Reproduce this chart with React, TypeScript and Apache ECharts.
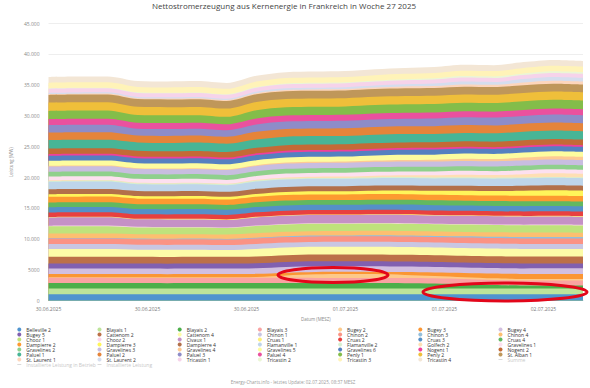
import React, { useEffect, useRef } from 'react';
import * as echarts from 'echarts';

// Hours since 30.06.2025 00:00 (MESZ)
const hours = [0, 3, 6, 9, 12, 15, 18, 21, 24, 27, 30, 33, 36, 39, 42, 45, 48, 51, 54];

// Net generation per unit in MW
const belleville2 = [1060, 1064, 1058, 1055, 1061, 1063, 1057, 1060, 1066, 1062, 1059, 1057, 1063, 1065, 1060, 1057, 1062, 1060, 1058];
const blayais1 = [920, 917, 923, 920, 914, 918, 921, 923, 919, 917, 920, 922, 918, 920, 923, 920, 917, 920, 921];
const blayais2 = [880, 883, 878, 881, 876, 879, 877, 880, 883, 880, 877, 881, 870, 820, 700, 560, 480, 460, 470];
const blayais3 = [840, 843, 838, 841, 835, 838, 841, 843, 839, 837, 840, 843, 840, 837, 841, 843, 839, 838, 840];
const bugey2 = [120, 118, 122, 120, 117, 121, 122, 150, 400, 600, 650, 620, 500, 380, 300, 260, 240, 250, 240];
const bugey3 = [500, 506, 497, 501, 503, 499, 497, 500, 450, 380, 360, 380, 450, 560, 680, 760, 800, 820, 810];
const bugey4 = [900, 903, 897, 901, 895, 900, 897, 901, 903, 899, 897, 901, 903, 899, 897, 901, 903, 900, 897];
const bugey5 = [810, 807, 813, 810, 805, 811, 807, 810, 813, 809, 807, 811, 813, 809, 807, 811, 813, 810, 807];
const cattenom2 = [1100, 1097, 1103, 1100, 1095, 1101, 1097, 1100, 1103, 1099, 1097, 1101, 1103, 1099, 1097, 1101, 1103, 1100, 1097];
const cattenom4 = [1250, 1256, 1262, 1152, 1165, 1150, 1122, 1242, 1250, 1256, 1249, 1253, 1256, 1250, 1253, 1256, 1249, 1253, 1250];
const chinon1 = [800, 797, 803, 800, 795, 801, 797, 800, 803, 799, 797, 801, 803, 799, 797, 801, 803, 800, 797];
const chinon2 = [900, 903, 897, 901, 895, 900, 897, 901, 903, 899, 897, 901, 903, 899, 897, 901, 903, 900, 897];
const chinon3 = [100, 101, 99, 100, 98, 101, 100, 110, 125, 130, 135, 145, 155, 175, 200, 200, 225, 250, 245];
const chinon4 = [720, 723, 717, 721, 715, 720, 717, 721, 723, 719, 717, 721, 723, 719, 717, 721, 723, 720, 717];
const chooz1 = [1180, 1186, 1192, 1082, 1095, 1080, 1052, 1172, 1180, 1186, 1179, 1183, 1186, 1180, 1183, 1186, 1179, 1183, 1180];
const chooz2 = [100, 101, 103, 100, 97, 100, 101, 100, 103, 100, 97, 101, 103, 100, 97, 100, 102, 100, 101];
const civaux1 = [1320, 1326, 1332, 1222, 1235, 1220, 1192, 1312, 1320, 1326, 1319, 1323, 1326, 1320, 1323, 1326, 1319, 1323, 1320];
const cruas1 = [100, 99, 102, 100, 98, 101, 99, 100, 102, 100, 98, 101, 102, 100, 98, 101, 102, 100, 99];
const cruas2 = [720, 724, 717, 721, 716, 719, 716, 721, 724, 720, 717, 721, 724, 720, 717, 721, 724, 720, 717];
const cruas3 = [860, 857, 863, 860, 855, 861, 857, 860, 863, 859, 857, 861, 863, 859, 857, 861, 863, 860, 857];
const cruas4 = [780, 783, 777, 781, 776, 780, 777, 781, 783, 779, 777, 781, 783, 779, 777, 781, 783, 780, 777];
const dampierre2 = [900, 897, 903, 900, 895, 901, 897, 900, 903, 899, 897, 901, 903, 899, 897, 901, 903, 900, 897];
const dampierre3 = [420, 417, 423, 420, 415, 421, 418, 450, 495, 505, 530, 560, 595, 650, 735, 720, 810, 880, 870];
const dampierre4 = [820, 823, 817, 821, 815, 820, 817, 821, 823, 819, 817, 821, 823, 819, 817, 821, 823, 820, 817];
const flamanville1 = [1200, 1206, 1212, 1102, 1115, 1100, 1072, 1192, 1200, 1206, 1199, 1203, 1206, 1200, 1203, 1206, 1199, 1203, 1200];
const flamanville2 = [150, 151, 149, 150, 148, 151, 149, 150, 152, 150, 148, 151, 152, 150, 148, 151, 152, 150, 149];
const golfech2 = [100, 101, 99, 100, 98, 101, 100, 130, 180, 195, 220, 250, 290, 350, 440, 425, 525, 600, 590];
const gravelines1 = [620, 623, 617, 621, 615, 620, 617, 621, 623, 619, 617, 621, 623, 619, 617, 621, 623, 620, 617];
const gravelines2 = [770, 767, 773, 770, 765, 771, 767, 770, 773, 769, 767, 771, 773, 769, 767, 771, 773, 770, 767];
const gravelines3 = [850, 853, 847, 851, 845, 850, 847, 851, 853, 849, 847, 851, 853, 849, 847, 851, 853, 850, 847];
const gravelines4 = [100, 99, 101, 100, 98, 101, 100, 125, 165, 175, 195, 220, 250, 300, 370, 360, 440, 500, 490];
const gravelines5 = [820, 817, 823, 820, 815, 821, 817, 820, 823, 819, 817, 821, 823, 819, 817, 821, 823, 820, 817];
const gravelines6 = [820, 823, 817, 821, 815, 820, 817, 821, 823, 819, 817, 821, 823, 819, 817, 821, 823, 820, 817];
const nogent1 = [280, 282, 278, 281, 276, 280, 278, 281, 282, 279, 277, 281, 282, 279, 277, 281, 282, 280, 278];
const nogent2 = [900, 903, 897, 901, 895, 900, 897, 901, 903, 899, 897, 901, 903, 899, 897, 901, 903, 900, 897];
const paluel1 = [1360, 1357, 1363, 1360, 1355, 1361, 1357, 1360, 1363, 1359, 1357, 1361, 1363, 1359, 1357, 1361, 1363, 1360, 1357];
const paluel2 = [1230, 1236, 1242, 1132, 1145, 1130, 1102, 1235, 1245, 1245, 1250, 1255, 1260, 1270, 1285, 1280, 1300, 1310, 1310];
const paluel3 = [1200, 1206, 1212, 1102, 1115, 1100, 1072, 1205, 1215, 1215, 1220, 1225, 1235, 1245, 1260, 1260, 1275, 1290, 1290];
const paluel4 = [970, 973, 967, 971, 965, 970, 967, 971, 973, 969, 967, 971, 973, 969, 967, 971, 973, 970, 967];
const penly1 = [1340, 1346, 1352, 1242, 1255, 1240, 1212, 1345, 1355, 1355, 1360, 1365, 1370, 1380, 1395, 1390, 1410, 1420, 1420];
const penly2 = [1340, 1337, 1343, 1340, 1335, 1341, 1337, 1340, 1343, 1339, 1337, 1341, 1343, 1339, 1337, 1341, 1343, 1340, 1337];
const stAlban1 = [1250, 1253, 1247, 1251, 1245, 1250, 1247, 1251, 1253, 1249, 1247, 1251, 1253, 1249, 1247, 1251, 1253, 1250, 1247];
const stLaurent1 = [150, 151, 149, 150, 148, 151, 149, 170, 210, 215, 235, 255, 285, 325, 390, 380, 450, 500, 495];
const stLaurent2 = [200, 201, 199, 200, 198, 201, 199, 225, 265, 275, 295, 320, 350, 400, 470, 460, 540, 600, 590];
const tricastin1 = [650, 653, 647, 651, 645, 650, 647, 651, 653, 649, 647, 651, 653, 649, 647, 651, 653, 650, 647];
const tricastin2 = [100, 101, 99, 100, 98, 101, 100, 115, 135, 140, 150, 160, 175, 200, 235, 230, 270, 300, 295];
const tricastin3 = [880, 877, 883, 880, 875, 881, 877, 880, 883, 879, 877, 881, 883, 879, 877, 881, 883, 880, 877];
const tricastin4 = [950, 953, 947, 951, 945, 950, 947, 951, 953, 949, 947, 951, 953, 949, 947, 951, 953, 950, 947];

const unitNames = [
  'Belleville 2', 'Blayais 1', 'Blayais 2', 'Blayais 3', 'Bugey 2', 'Bugey 3', 'Bugey 4',
  'Bugey 5', 'Cattenom 2', 'Cattenom 4', 'Chinon 1', 'Chinon 2', 'Chinon 3', 'Chinon 4',
  'Chooz 1', 'Chooz 2', 'Civaux 1', 'Cruas 1', 'Cruas 2', 'Cruas 3', 'Cruas 4',
  'Dampierre 2', 'Dampierre 3', 'Dampierre 4', 'Flamanville 1', 'Flamanville 2', 'Golfech 2', 'Gravelines 1',
  'Gravelines 2', 'Gravelines 3', 'Gravelines 4', 'Gravelines 5', 'Gravelines 6', 'Nogent 1', 'Nogent 2',
  'Paluel 1', 'Paluel 2', 'Paluel 3', 'Paluel 4', 'Penly 1', 'Penly 2', 'St. Alban 1',
  'St. Laurent 1', 'St. Laurent 2', 'Tricastin 1', 'Tricastin 2', 'Tricastin 3', 'Tricastin 4',
];

const unitValues = [
  belleville2, blayais1, blayais2, blayais3, bugey2, bugey3, bugey4,
  bugey5, cattenom2, cattenom4, chinon1, chinon2, chinon3, chinon4,
  chooz1, chooz2, civaux1, cruas1, cruas2, cruas3, cruas4,
  dampierre2, dampierre3, dampierre4, flamanville1, flamanville2, golfech2, gravelines1,
  gravelines2, gravelines3, gravelines4, gravelines5, gravelines6, nogent1, nogent2,
  paluel1, paluel2, paluel3, paluel4, penly1, penly2, stAlban1,
  stLaurent1, stLaurent2, tricastin1, tricastin2, tricastin3, tricastin4,
];

const unitColors = [
  '#4f94cf', '#bde49a', '#4caf4a', '#f9a3a2', '#fdc98a', '#fb9633', '#d2bfe0',
  '#8160b0', '#bc7048', '#fdfca8', '#c9c6e2', '#fb9384', '#93bedb', '#fdbf70',
  '#bfe27c', '#fcd5ea', '#c591c6', '#fff07a', '#e8403f', '#5590c8', '#62b860',
  '#fd9a30', '#fff55a', '#b3704a', '#bed5ea', '#d6efd0', '#fedfb4', '#fde0ef',
  '#8fd08c', '#c8bde0', '#fdc994', '#fdfc9f', '#5580c0', '#f0409a', '#c46a36',
  '#48b596', '#e5843a', '#8e8cc8', '#ea519e', '#83bd4a', '#efbf3a', '#bf975a',
  '#fdd6bc', '#d5ddee', '#f6d3ea', '#ebf6d6', '#fff3b8', '#f3e6d5',
];

const xTickLabels = ['30.06.2025', '30.06.2025', '30.06.2025', '01.07.2025', '01.07.2025', '02.07.2025'];
const yTickLabels = ['0', '5000', '10.000', '15.000', '20.000', '25.000', '30.000', '35.000', '40.000', '45.000'];

const FONT = '"Open Sans", "Noto Sans", sans-serif';
const LINE_ICON = 'path://M0,0L12,0L12,2L0,2Z';

export default function App() {
  const ref = useRef<HTMLDivElement>(null);

  useEffect(() => {
    document.body.style.margin = '0';
    const chart = echarts.init(ref.current!, undefined, { renderer: 'svg' });

    // Stack manually: each layer is filled from 0 up to its cumulative total,
    // drawn from the top layer down so lower layers cover the ones above.
    const running = hours.map(() => 0);
    const cumulative = unitValues.map((vals) =>
      vals.map((v, j) => {
        running[j] += v;
        return running[j];
      })
    );

    const series: any[] = [];
    for (let i = unitNames.length - 1; i >= 0; i--) {
      series.push({
        name: unitNames[i],
        type: 'line',
        symbol: 'none',
        smooth: 0.3,
        lineStyle: { width: 0 },
        areaStyle: { color: unitColors[i], opacity: 1 },
        itemStyle: { color: unitColors[i] },
        emphasis: { disabled: true },
        data: hours.map((h, j) => [h, cumulative[i][j]]),
      });
    }
    series.push({
      name: 'Summe',
      type: 'line',
      symbol: 'none',
      lineStyle: { color: '#b8c8e0', width: 1 },
      itemStyle: { color: '#b8c8e0' },
      data: hours.map((h, j) => [h, running[j]]),
    });
    series.push({
      name: 'Installierte Leistung in Betrieb',
      type: 'line',
      symbol: 'none',
      lineStyle: { color: '#aaaaaa', width: 1 },
      itemStyle: { color: '#aaaaaa' },
      data: [],
    });
    series.push({
      name: 'Installierte Leistung',
      type: 'line',
      symbol: 'none',
      lineStyle: { color: '#aaaaaa', width: 1 },
      itemStyle: { color: '#aaaaaa' },
      data: [],
    });

    const legendNames = [...unitNames, 'Summe'];
    const selected: Record<string, boolean> = {
      Summe: false,
      'Installierte Leistung in Betrieb': false,
      'Installierte Leistung': false,
    };
    const colX = [19.3, 99.5, 179.7, 259.9, 340.1, 420.3, 500.5];
    const legends = colX.map((x, c) => {
      const data: any[] = [];
      for (let r = 0; r < 7; r++) {
        const n = legendNames[r * 7 + c];
        data.push({ name: n, icon: n === 'Summe' ? LINE_ICON : 'circle' });
      }
      if (c === 0) data.push({ name: 'Installierte Leistung in Betrieb', icon: LINE_ICON });
      if (c === 1) data.push({ name: 'Installierte Leistung', icon: LINE_ICON });
      return {
        orient: 'vertical',
        left: x - 2,
        top: 327,
        padding: 0,
        itemWidth: 4,
        itemHeight: 4,
        itemGap: 0,
        inactiveColor: '#c8c8c8',
        selected,
        textStyle: { fontSize: 5, lineHeight: 4, color: '#333', fontFamily: FONT },
        data,
      };
    });

    chart.setOption({
      animation: false,
      backgroundColor: '#ffffff',
      textStyle: { fontFamily: FONT },
      title: [
        {
          text: 'Nettostromerzeugung aus Kernenergie in Frankreich in Woche 27 2025',
          left: 284,
          textAlign: 'center',
          top: 1,
          padding: 0,
          textStyle: { fontSize: 8, fontWeight: 'normal', color: '#444', fontFamily: FONT },
        },
        {
          text: 'Energy-Charts.info - letztes Update: 02.07.2025, 08:37 MESZ',
          left: 293,
          textAlign: 'center',
          top: 379,
          padding: 0,
          textStyle: { fontSize: 4.5, fontWeight: 'normal', color: '#999', fontFamily: FONT },
        },
      ],
      legend: legends,
      grid: { left: 35, right: 7, top: 23.5, bottom: 87.3 },
      xAxis: {
        type: 'value',
        min: 0,
        max: 54,
        interval: 10,
        name: 'Datum (MESZ)',
        nameLocation: 'middle',
        nameGap: 16,
        nameTextStyle: { fontSize: 4.5, color: '#888' },
        axisLine: { show: true, lineStyle: { color: '#ccd6eb', width: 1 } },
        axisTick: { show: false },
        splitLine: { show: false },
        axisLabel: {
          fontSize: 5,
          color: '#777',
          margin: 6,
          showMaxLabel: false,
          formatter: (v: number) => (v % 10 === 0 ? xTickLabels[v / 10] ?? '' : ''),
        },
      },
      yAxis: {
        type: 'value',
        min: 0,
        max: 45000,
        interval: 5000,
        name: 'Leistung (MW)',
        nameLocation: 'middle',
        nameRotate: 90,
        nameGap: 29,
        nameTextStyle: { fontSize: 4.5, color: '#888' },
        axisLine: { show: false },
        axisTick: { show: false },
        splitLine: { lineStyle: { color: '#eeeeee', width: 1 } },
        axisLabel: {
          fontSize: 5,
          color: '#888',
          margin: 9,
          formatter: (v: number) => yTickLabels[Math.round(v / 5000)] ?? '',
        },
      },
      series,
      graphic: [
        {
          type: 'ellipse',
          z: 100,
          shape: { cx: 333, cy: 275, rx: 55, ry: 7.5 },
          style: { fill: 'none', stroke: '#e3061a', lineWidth: 3 },
        },
        {
          type: 'ellipse',
          z: 100,
          shape: { cx: 505, cy: 292, rx: 82, ry: 9 },
          style: { fill: 'none', stroke: '#e3061a', lineWidth: 3 },
        },
      ],
    });

    return () => chart.dispose();
  }, []);

  return <div ref={ref} style={{ width: 590, height: 388 }} />;
}
